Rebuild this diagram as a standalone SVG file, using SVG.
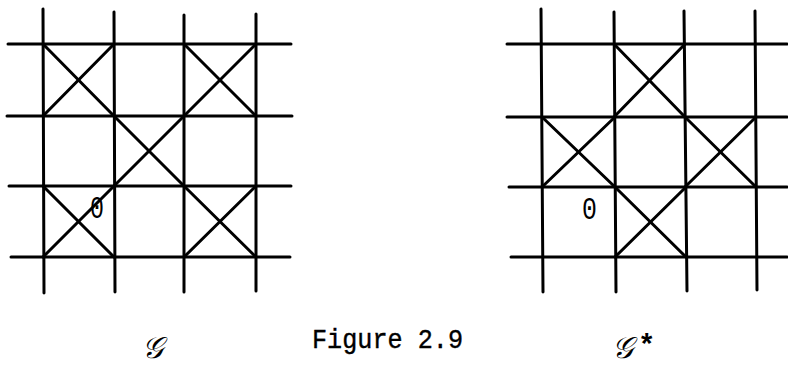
<svg xmlns="http://www.w3.org/2000/svg" width="788" height="367" viewBox="0 0 788 367">
<style>
.g line{stroke:#000;stroke-width:3;stroke-linecap:round}
.d line{stroke:#000;stroke-width:3;stroke-linecap:round}
.t{font-family:"Liberation Mono","DejaVu Sans Mono",monospace;fill:#000}
.s{font-family:"DejaVu Serif","Noto Sans",serif;font-style:italic;fill:#000}
</style>
<rect width="788" height="367" fill="#fff"/>
<g id="gridG" class="g">
<line x1="8" y1="44" x2="291" y2="44"/>
<line x1="7" y1="116" x2="292" y2="116"/>
<line x1="9" y1="186" x2="291" y2="186"/>
<line x1="11" y1="257" x2="290" y2="257"/>
<line x1="43" y1="9" x2="44" y2="293"/>
<line x1="114" y1="12" x2="115" y2="292"/>
<line x1="184" y1="15" x2="184" y2="292"/>
<line x1="256" y1="14" x2="256" y2="291"/>
</g>
<g id="crossesG" class="d">
<line x1="43" y1="44" x2="114" y2="116"/><line x1="114" y1="44" x2="43" y2="116"/>
<line x1="184" y1="44" x2="256" y2="116"/><line x1="256" y1="44" x2="184" y2="116"/>
<line x1="114" y1="116" x2="184" y2="186"/><line x1="184" y1="116" x2="114" y2="186"/>
<line x1="43" y1="186" x2="114" y2="257"/><line x1="114" y1="186" x2="43" y2="257"/>
<line x1="184" y1="186" x2="256" y2="257"/><line x1="256" y1="186" x2="184" y2="257"/>
</g>
<g id="gridGstar" class="g">
<line x1="507" y1="44" x2="787" y2="44"/>
<line x1="507" y1="117" x2="787" y2="117"/>
<line x1="509" y1="187" x2="787" y2="187"/>
<line x1="511" y1="257" x2="787" y2="257"/>
<line x1="541" y1="9" x2="543" y2="292"/>
<line x1="614" y1="12" x2="616" y2="292"/>
<line x1="684" y1="11" x2="687" y2="291"/>
<line x1="755" y1="11" x2="757" y2="290"/>
</g>
<g id="crossesGstar" class="d">
<line x1="614" y1="44" x2="685" y2="117"/><line x1="685" y1="44" x2="614" y2="117"/>
<line x1="542" y1="117" x2="615" y2="187"/><line x1="615" y1="117" x2="542" y2="187"/>
<line x1="685" y1="117" x2="756" y2="187"/><line x1="756" y1="117" x2="685" y2="187"/>
<line x1="615" y1="187" x2="686" y2="257"/><line x1="686" y1="187" x2="615" y2="257"/>
</g>
<g id="labels">
<text class="t" font-size="31" text-anchor="middle" transform="translate(97,218) scale(0.75,1)">0</text>
<text class="t" font-size="31" text-anchor="middle" transform="translate(589.5,219) scale(0.8,1)">0</text>
<text class="s" x="142" y="358" font-size="30">𝒢</text>
<text class="t" x="312" y="348" font-size="27" textLength="151" lengthAdjust="spacingAndGlyphs" stroke="#000" stroke-width="0.4">Figure 2.9</text>
<text class="s" x="612" y="358" font-size="30">𝒢</text>
<text class="t" x="638" y="355" font-size="29" font-weight="bold">*</text>
</g>
</svg>
